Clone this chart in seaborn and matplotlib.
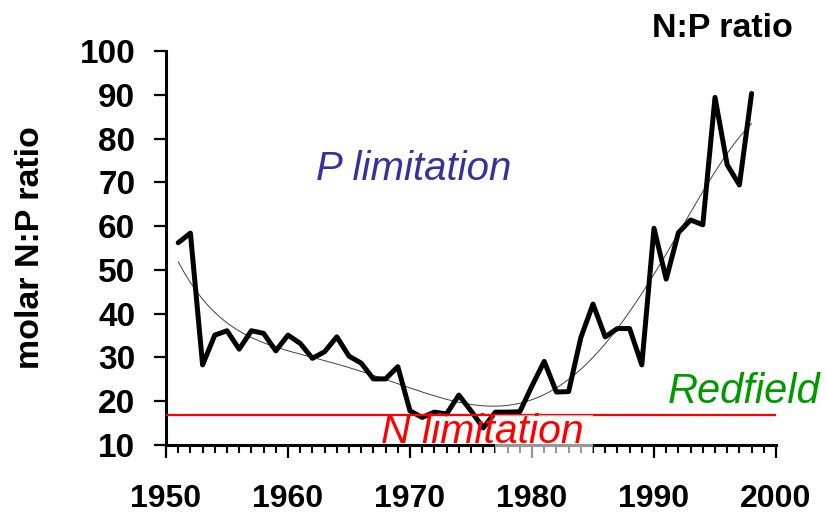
import matplotlib
matplotlib.use("Agg")
import matplotlib.pyplot as plt
import matplotlib.ticker as mticker
from matplotlib.patches import Rectangle
import numpy as np
import pandas as pd
import seaborn as sns

# ---- data ----
years = list(range(1951, 1999))
np_ratio = [56.2, 58.4, 28.3, 35.1, 36.1, 31.9, 36.1, 35.5, 31.5, 35.1,
            33.2, 29.8, 31.3, 34.7, 30.3, 28.7, 25.1, 25.1, 27.9, 17.8,
            16.3, 17.5, 17.1, 21.4, 17.8, 13.9, 17.5, 17.5, 17.6, 23.5,
            29.1, 22.1, 22.2, 34.5, 42.2, 34.7, 36.6, 36.6, 28.3, 59.5,
            47.9, 58.5, 61.4, 60.3, 89.4, 74.0, 69.4, 90.3]
redfield_value = 16.9
trend_order = 6
x_ticks = [1950, 1960, 1970, 1980, 1990, 2000]
y_ticks = [10, 20, 30, 40, 50, 60, 70, 80, 90, 100]

df = pd.DataFrame({"year": years, "ratio": np_ratio})

sns.set_style("ticks")
plt.rcParams["font.family"] = ["Liberation Sans", "DejaVu Sans"]
plt.rcParams["text.color"] = "black"
plt.rcParams["axes.labelcolor"] = "black"
plt.rcParams["xtick.color"] = "black"
plt.rcParams["ytick.color"] = "black"

fig = plt.figure(figsize=(8.27, 5.16), dpi=100)
ax = fig.add_axes([166 / 827, 1 - 445 / 516, (776 - 166) / 827, (445 - 51) / 516])

# thin polynomial trend
sns.regplot(data=df, x="year", y="ratio", order=trend_order, ci=None, scatter=False,
            truncate=True, ax=ax, line_kws=dict(color="#404040", lw=0.7, zorder=3))
# thick data line
sns.lineplot(data=df, x="year", y="ratio", ax=ax, color="black", lw=3.6, zorder=4)

# Redfield line
ax.axhline(redfield_value, color="#ff0000", lw=1.6, zorder=5)

ax.set_xlim(1950, 2000)
ax.set_ylim(10, 100)
ax.set_xlabel("")
ax.set_ylabel("molar N:P ratio", fontsize=24.5, fontweight="bold", labelpad=24,
              color="black")

for s in ["top", "right"]:
    ax.spines[s].set_visible(False)
for s in ["left", "bottom"]:
    ax.spines[s].set_linewidth(2.2)
    ax.spines[s].set_color("black")

ax.set_yticks(y_ticks)
ax.xaxis.set_major_locator(mticker.FixedLocator(x_ticks))
ax.xaxis.set_minor_locator(mticker.MultipleLocator(1))
ax.yaxis.set_minor_locator(mticker.NullLocator())

ax.tick_params(axis="y", which="major", length=9, width=1.6, pad=13,
               labelsize=24, colors="black", left=True)
ax.tick_params(axis="x", which="major", length=9.4, width=1.6, pad=19,
               labelsize=23, colors="black", bottom=True)
ax.xaxis.set_tick_params(which="minor", bottom=True, length=5.5, width=1.5,
                         color="black")
for t in ax.xaxis.get_minor_ticks():
    t.tick1line.set_visible(True)
    t.tick1line.set_markersize(5.5)
    t.tick1line.set_markeredgewidth(1.5)
    t.tick1line.set_color("black")
for lab in ax.get_xticklabels() + ax.get_yticklabels():
    lab.set_fontweight("bold")
    lab.set_color("black")

# annotations
ax.text(1970.3, 70.5, "P limitation", fontsize=29, fontstyle="italic",
        color="#333399", ha="center", va="baseline")
ax.text(1991.1, 19.6, "Redfield", fontsize=30, fontstyle="italic",
        color="#009900", ha="left", va="baseline", clip_on=False)
ax.add_patch(Rectangle((1977.0, 6.5), 8.0, 10.4, facecolor="white", alpha=0.6,
                       edgecolor="none", zorder=6, clip_on=False))
ax.text(1967.6, 10.5, "N limitation", fontsize=29.5, fontstyle="italic",
        color="#ff0000", ha="left", va="baseline", clip_on=False, zorder=7)

fig.text(793 / 827, 1 - 13 / 516, "N:P ratio", fontsize=24.5, fontweight="bold",
         color="black", ha="right", va="top")

fig.savefig("out.png", dpi=100, facecolor="white")
